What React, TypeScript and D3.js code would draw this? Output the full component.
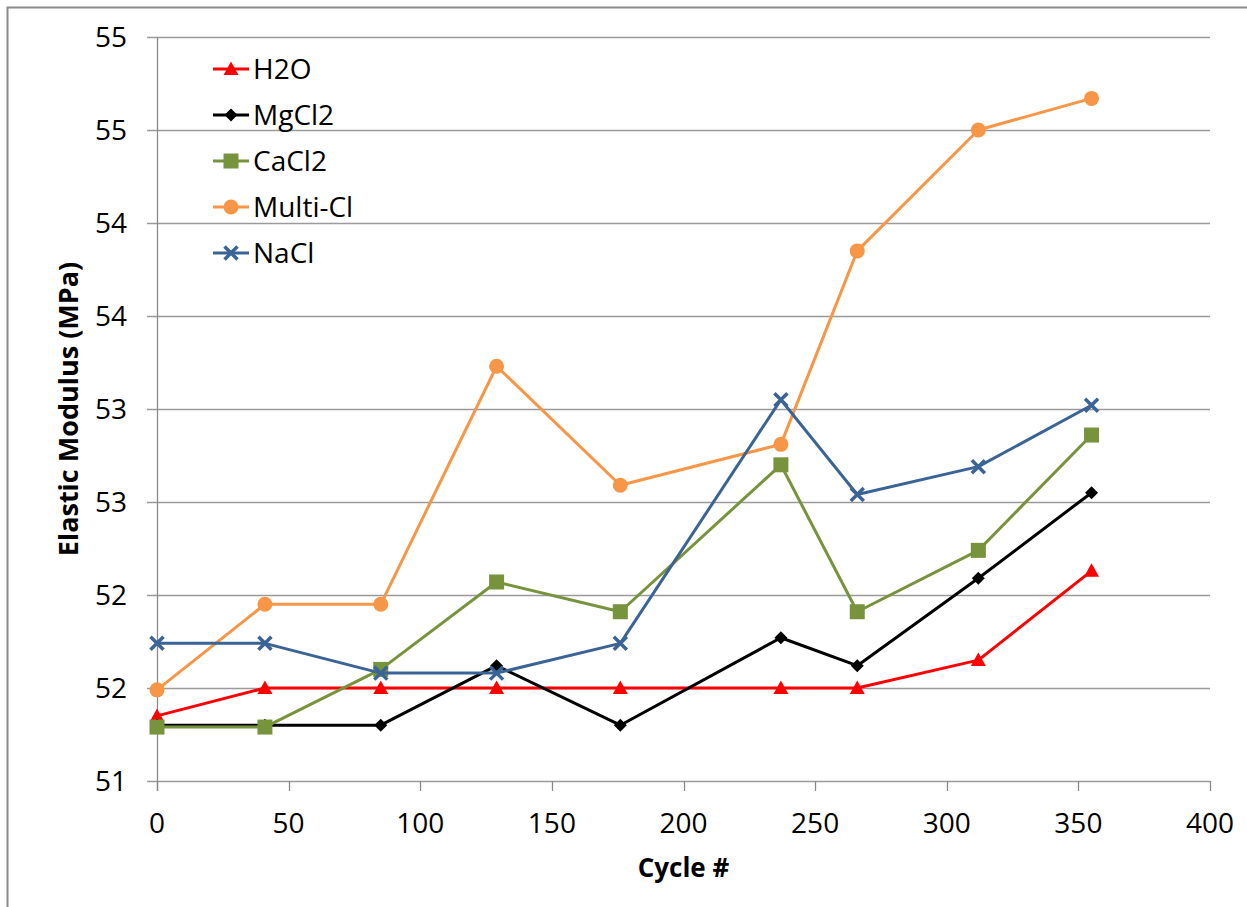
import React from "react";
import * as d3 from "d3";

// Cycle counts at which the specimens were tested
const cycles = [0, 41, 85, 129, 176, 237, 266, 312, 355];

// Elastic modulus (MPa) per exposure solution
const h2o = [51.35, 51.5, 51.5, 51.5, 51.5, 51.5, 51.5, 51.65, 52.13];
const mgcl2 = [51.3, 51.3, 51.3, 51.62, 51.3, 51.77, 51.62, 52.09, 52.55];
const cacl2 = [51.29, 51.29, 51.6, 52.07, 51.91, 52.7, 51.91, 52.24, 52.86];
const multiCl = [51.49, 51.95, 51.95, 53.23, 52.59, 52.81, 53.85, 54.5, 54.67];
const nacl = [51.74, 51.74, 51.58, 51.58, 51.74, 53.05, 52.54, 52.69, 53.02];

const seriesNames = ["H2O", "MgCl2", "CaCl2", "Multi-Cl", "NaCl"];
const seriesColors = ["#FF0000", "#000000", "#77933C", "#F79646", "#3B6496"];
const seriesMarkers = ["triangle", "diamond", "square", "circle", "cross"];
const seriesValues = [h2o, mgcl2, cacl2, multiCl, nacl];

const xTicks = [0, 50, 100, 150, 200, 250, 300, 350, 400];
const yTicks = [51, 51.5, 52, 52.5, 53, 53.5, 54, 54.5, 55];
const yTickLabels = ["51", "52", "52", "53", "53", "54", "54", "55", "55"];

const W = 1247;
const H = 907;
const plot = { left: 157, right: 1210, top: 37, bottom: 781 };
const FONT = "'Open Sans', 'Noto Sans', sans-serif";

const x = d3.scaleLinear().domain([0, 400]).range([plot.left, plot.right]);
const y = d3.scaleLinear().domain([51, 55]).range([plot.bottom, plot.top]);

function Marker({ kind, cx, cy, color }: { kind: string; cx: number; cy: number; color: string }) {
  switch (kind) {
    case "triangle": {
      const s = 7.5;
      const p = `M${cx},${cy - s} L${cx + s},${cy + s * 0.8} L${cx - s},${cy + s * 0.8} Z`;
      return <path d={p} fill={color} />;
    }
    case "diamond": {
      const s = 6.5;
      const p = `M${cx},${cy - s} L${cx + s},${cy} L${cx},${cy + s} L${cx - s},${cy} Z`;
      return <path d={p} fill={color} />;
    }
    case "square": {
      const s = 7.5;
      return <rect x={cx - s} y={cy - s} width={2 * s} height={2 * s} fill={color} />;
    }
    case "circle":
      return <circle cx={cx} cy={cy} r={7.5} fill={color} />;
    case "cross": {
      const s = 6.5;
      const p = `M${cx - s},${cy - s} L${cx + s},${cy + s} M${cx - s},${cy + s} L${cx + s},${cy - s}`;
      return <path d={p} stroke={color} strokeWidth={3.5} fill="none" />;
    }
    default:
      return null;
  }
}

export default function App() {
  const line = d3
    .line<[number, number]>()
    .x((d) => x(d[0]))
    .y((d) => y(d[1]));

  return (
    <svg
      width={W}
      height={H}
      style={{ position: "absolute", left: 0, top: 0, background: "#fff" }}
      fontFamily={FONT}
    >
      <rect x={0} y={0} width={W} height={H} fill="#fff" />
      {/* chart frame */}
      <rect x={7.5} y={7.5} width={W + 10} height={H + 10} fill="none" stroke="#8a8a8a" strokeWidth={2} />

      {/* horizontal gridlines */}
      {yTicks.map((t, i) => (
        <line
          key={`g${i}`}
          x1={plot.left - 10}
          x2={plot.right}
          y1={Math.round(y(t)) + 0.5}
          y2={Math.round(y(t)) + 0.5}
          stroke="#9a9a9a"
          strokeWidth={1.3}
        />
      ))}

      {/* y axis line */}
      <line x1={plot.left + 0.5} x2={plot.left + 0.5} y1={plot.top} y2={plot.bottom + 10} stroke="#8a8a8a" strokeWidth={1.3} />
      {/* x axis ticks */}
      {xTicks.map((t, i) => (
        <line
          key={`xt${i}`}
          x1={Math.round(x(t)) + 0.5}
          x2={Math.round(x(t)) + 0.5}
          y1={plot.bottom}
          y2={plot.bottom + 10}
          stroke="#8a8a8a"
          strokeWidth={1.3}
        />
      ))}

      {/* y tick labels */}
      {yTicks.map((t, i) => (
        <text
          key={`yl${i}`}
          x={127}
          y={y(t)}
          dy="0.36em"
          textAnchor="end"
          fontSize={28}
          fill="#000"
        >
          {yTickLabels[i]}
        </text>
      ))}

      {/* x tick labels */}
      {xTicks.map((t, i) => (
        <text key={`xl${i}`} x={x(t)} y={833} textAnchor="middle" fontSize={28} fill="#000">
          {t}
        </text>
      ))}

      {/* axis titles */}
      <text
        x={(plot.left + plot.right) / 2}
        y={877}
        textAnchor="middle"
        fontSize={26}
        fontWeight="bold"
        fill="#000"
      >
        Cycle #
      </text>
      <text
        transform={`translate(78, ${(plot.top + plot.bottom) / 2}) rotate(-90)`}
        textAnchor="middle"
        fontSize={27}
        fontWeight="bold"
        fill="#000"
      >
        Elastic Modulus (MPa)
      </text>

      {/* series */}
      {seriesValues.map((vals, si) => {
        const pts = cycles.map((c, i) => [c, vals[i]] as [number, number]);
        return (
          <g key={`s${si}`}>
            <path d={line(pts) || ""} fill="none" stroke={seriesColors[si]} strokeWidth={3} strokeLinejoin="round" />
            {pts.map((p, i) => (
              <Marker key={i} kind={seriesMarkers[si]} cx={x(p[0])} cy={y(p[1])} color={seriesColors[si]} />
            ))}
          </g>
        );
      })}

      {/* legend */}
      {seriesNames.map((name, i) => {
        const ly = 69 + i * 46;
        return (
          <g key={`lg${i}`}>
            <line x1={213} x2={249} y1={ly} y2={ly} stroke={seriesColors[i]} strokeWidth={3} />
            <Marker kind={seriesMarkers[i]} cx={231} cy={ly} color={seriesColors[i]} />
            <text x={253} y={ly} dy="0.36em" fontSize={28} fill="#000">
              {name}
            </text>
          </g>
        );
      })}
    </svg>
  );
}
